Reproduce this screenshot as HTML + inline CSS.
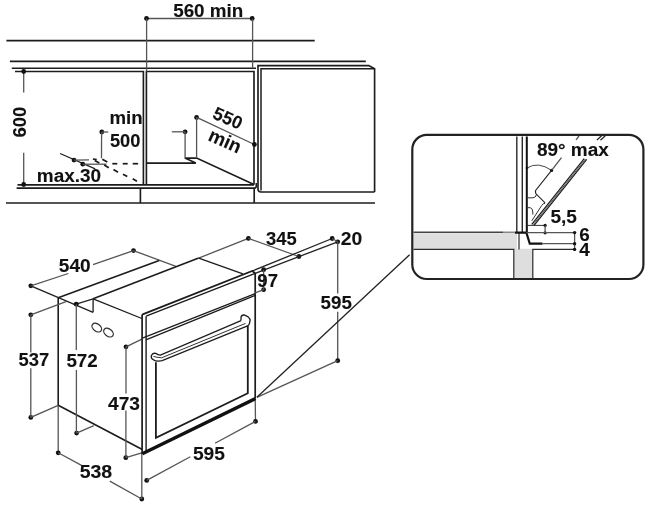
<!DOCTYPE html>
<html><head><meta charset="utf-8"><style>
html,body{margin:0;padding:0;background:#fff;}
svg{display:block;} .wrap{will-change:transform;width:650px;height:507px;}
text{font-family:"Liberation Sans",sans-serif;font-weight:bold;fill:#111;stroke:#111;stroke-width:0.1px;}
</style></head><body>
<div class="wrap"><svg width="650" height="507" viewBox="0 0 650 507">
<rect width="650" height="507" fill="#fff"/>
<line x1="6.4" y1="40.6" x2="314.7" y2="40.6" stroke="#1c1c1c" stroke-width="1.65" />
<line x1="9.9" y1="61.3" x2="365.8" y2="61.3" stroke="#1c1c1c" stroke-width="1.65" />
<line x1="11.8" y1="68.2" x2="256" y2="68.2" stroke="#1c1c1c" stroke-width="1.65" />
<path d="M15,71.5 H143.4 V184.7" stroke="#1c1c1c" stroke-width="1.65" fill="none" />
<path d="M146.4,184.7 V71.5 H254 V184.7" stroke="#1c1c1c" stroke-width="1.65" fill="none" />
<line x1="17.5" y1="184.8" x2="254" y2="184.8" stroke="#1c1c1c" stroke-width="1.65" />
<path d="M16.6,188.1 H254.5 Q256.3,188 256.3,186 V183" stroke="#1c1c1c" stroke-width="1.65" fill="none" />
<line x1="6" y1="203" x2="375" y2="203" stroke="#1c1c1c" stroke-width="1.65" />
<line x1="140.4" y1="188" x2="140.4" y2="203" stroke="#1c1c1c" stroke-width="1.65" />
<line x1="254.2" y1="188" x2="254.2" y2="203" stroke="#1c1c1c" stroke-width="1.65" />
<path d="M374.6,192 H261 Q258,192 258,189 V65.6 H368.8 L374.6,68.8 V192" stroke="#1c1c1c" stroke-width="1.65" fill="none" />
<path d="M374.6,68.8 H261 V190.5" stroke="#1c1c1c" stroke-width="1.5" fill="none" />
<line x1="146.5" y1="18.5" x2="252.2" y2="18.5" stroke="#555" stroke-width="1.3" />
<circle cx="146.5" cy="18.5" r="2.4" fill="#111"/>
<circle cx="252.2" cy="18.5" r="2.4" fill="#111"/>
<line x1="146.6" y1="18.5" x2="146.6" y2="71.5" stroke="#555" stroke-width="1.3" />
<line x1="252.6" y1="18.5" x2="252.6" y2="68.2" stroke="#555" stroke-width="1.3" />
<text x="173.20" y="16.7" textLength="70.10" lengthAdjust="spacingAndGlyphs" font-size="18">560 min</text>
<line x1="23.7" y1="71.5" x2="23.7" y2="92.5" stroke="#555" stroke-width="1.3" />
<line x1="23.7" y1="152.8" x2="23.7" y2="184.5" stroke="#555" stroke-width="1.3" />
<circle cx="23.7" cy="71.5" r="2.4" fill="#111"/>
<circle cx="23.7" cy="184.5" r="2.4" fill="#111"/>
<text transform="translate(26.2,137.6) rotate(-90)" textLength="31" lengthAdjust="spacingAndGlyphs" font-size="19">600</text>
<circle cx="101.8" cy="132" r="2.4" fill="#111"/>
<line x1="101.8" y1="132" x2="108.3" y2="132" stroke="#555" stroke-width="1.3" />
<line x1="101.6" y1="132" x2="101.5" y2="158.3" stroke="#555" stroke-width="1.3" />
<text x="109.40" y="123.9" textLength="33.20" lengthAdjust="spacingAndGlyphs" font-size="18">min</text>
<text x="109.90" y="147.3" textLength="30.50" lengthAdjust="spacingAndGlyphs" font-size="18">500</text>
<line x1="60.1" y1="153.5" x2="95.2" y2="168.8" stroke="#222" stroke-width="1.3" />
<circle cx="74" cy="160.1" r="2.4" fill="#111"/>
<circle cx="82.8" cy="164.2" r="2.4" fill="#111"/>
<line x1="74" y1="160.1" x2="89" y2="159.9" stroke="#555" stroke-width="1.3" />
<line x1="82.8" y1="164.2" x2="106.5" y2="164.2" stroke="#555" stroke-width="1.3" />
<line x1="112.3" y1="163.7" x2="117.3" y2="163.7" stroke="#1a1a1a" stroke-width="1.7" />
<line x1="122.7" y1="163.7" x2="127.7" y2="163.7" stroke="#1a1a1a" stroke-width="1.7" />
<line x1="132.7" y1="163.7" x2="138.1" y2="163.7" stroke="#1a1a1a" stroke-width="1.7" />
<line x1="94.7" y1="160.4" x2="99.3" y2="163" stroke="#1a1a1a" stroke-width="1.7" />
<line x1="104.2" y1="165" x2="108.8" y2="167.7" stroke="#1a1a1a" stroke-width="1.7" />
<line x1="113.5" y1="169.6" x2="118" y2="172.3" stroke="#1a1a1a" stroke-width="1.7" />
<line x1="123" y1="174.2" x2="127.3" y2="176.5" stroke="#1a1a1a" stroke-width="1.7" />
<line x1="132.7" y1="178.8" x2="136.9" y2="181.2" stroke="#1a1a1a" stroke-width="1.7" />
<line x1="92.9" y1="159" x2="96.7" y2="159.7" stroke="#1a1a1a" stroke-width="1.7" />
<line x1="102.3" y1="159.2" x2="107.3" y2="161.9" stroke="#1a1a1a" stroke-width="1.7" />
<text x="36.80" y="182.20000000000002" textLength="64.30" lengthAdjust="spacingAndGlyphs" font-size="18">max.30</text>
<path d="M146.4,163.1 H195.8 L184.9,158.1 H196.6 L253.4,184.2" stroke="#1c1c1c" stroke-width="1.65" fill="none" />
<circle cx="196.6" cy="117.5" r="2.4" fill="#111"/>
<line x1="196.6" y1="117.5" x2="196.6" y2="158.3" stroke="#555" stroke-width="1.3" />
<circle cx="185.1" cy="131.8" r="2.4" fill="#111"/>
<line x1="171.8" y1="131.8" x2="185.1" y2="131.8" stroke="#555" stroke-width="1.3" />
<line x1="185.1" y1="131.8" x2="185.1" y2="158.3" stroke="#555" stroke-width="1.3" />
<line x1="196.7" y1="117.3" x2="254.4" y2="144.5" stroke="#555" stroke-width="1.3" />
<circle cx="254.4" cy="144.5" r="2.4" fill="#111"/>
<text transform="translate(225.3,123.8) rotate(23.9)" text-anchor="middle" font-size="18">550</text>
<text transform="translate(222.4,146.8) rotate(23.9)" text-anchor="middle" font-size="19">min</text>
<circle cx="30.8" cy="285.8" r="2.4" fill="#111"/>
<circle cx="133.5" cy="250.6" r="2.4" fill="#111"/>
<line x1="30.8" y1="285.8" x2="68.3" y2="273.5" stroke="#555" stroke-width="1.3" />
<line x1="93" y1="264.7" x2="133.5" y2="250.6" stroke="#555" stroke-width="1.3" />
<text x="58.80" y="272.4" textLength="31.80" lengthAdjust="spacingAndGlyphs" font-size="18">540</text>
<line x1="133.5" y1="250.6" x2="175.9" y2="266.4" stroke="#555" stroke-width="1.3" />
<line x1="30.8" y1="285.8" x2="93.1" y2="312.3" stroke="#222" stroke-width="1.4" />
<line x1="76.2" y1="304.2" x2="93.1" y2="298.8" stroke="#222" stroke-width="1.3" />
<line x1="58.2" y1="297.7" x2="159.2" y2="260.4" stroke="#1c1c1c" stroke-width="1.6" />
<line x1="93.1" y1="298.8" x2="198.7" y2="258.1" stroke="#1c1c1c" stroke-width="1.6" />
<line x1="198.7" y1="258.1" x2="248.4" y2="238.4" stroke="#555" stroke-width="1.3" />
<line x1="198.7" y1="258.1" x2="242.9" y2="273.9" stroke="#1c1c1c" stroke-width="1.3" />
<line x1="93.1" y1="312.3" x2="93.1" y2="298.8" stroke="#1c1c1c" stroke-width="1.3" />
<line x1="93.1" y1="298.8" x2="141.9" y2="318.5" stroke="#1c1c1c" stroke-width="1.3" />
<line x1="58.2" y1="297.7" x2="58.2" y2="405.3" stroke="#1c1c1c" stroke-width="1.6" />
<line x1="58.2" y1="405.3" x2="58.2" y2="452.8" stroke="#555" stroke-width="1.3" />
<line x1="58.2" y1="405.3" x2="142.3" y2="449.5" stroke="#1c1c1c" stroke-width="1.6" />
<circle cx="30.8" cy="314.8" r="2.4" fill="#111"/>
<circle cx="30.8" cy="417.4" r="2.4" fill="#111"/>
<line x1="30.8" y1="314.8" x2="66" y2="301.6" stroke="#555" stroke-width="1.3" />
<line x1="30.8" y1="314.8" x2="30.8" y2="352.5" stroke="#555" stroke-width="1.3" />
<line x1="30.8" y1="368.3" x2="30.8" y2="417.4" stroke="#555" stroke-width="1.3" />
<line x1="30.8" y1="417.4" x2="58.2" y2="405.3" stroke="#555" stroke-width="1.3" />
<text x="18.60" y="366.2" textLength="30.70" lengthAdjust="spacingAndGlyphs" font-size="18">537</text>
<circle cx="76.2" cy="304.2" r="2.4" fill="#111"/>
<circle cx="76.6" cy="433.1" r="2.4" fill="#111"/>
<line x1="76.3" y1="304.2" x2="76.3" y2="350" stroke="#555" stroke-width="1.3" />
<line x1="76.4" y1="370" x2="76.4" y2="433.1" stroke="#555" stroke-width="1.3" />
<line x1="76.6" y1="433.1" x2="93.8" y2="425.7" stroke="#555" stroke-width="1.3" />
<text x="66.40" y="367.09999999999997" textLength="31.40" lengthAdjust="spacingAndGlyphs" font-size="18">572</text>
<ellipse cx="96.8" cy="327.6" rx="5.4" ry="3.6" transform="rotate(38 96.8 327.6)" fill="none" stroke="#333" stroke-width="1.3"/>
<ellipse cx="108.5" cy="332.6" rx="5.4" ry="3.6" transform="rotate(38 108.5 332.6)" fill="none" stroke="#333" stroke-width="1.3"/>
<circle cx="126" cy="346.8" r="2.4" fill="#111"/>
<circle cx="125.8" cy="457.7" r="2.4" fill="#111"/>
<line x1="126" y1="346.8" x2="141.9" y2="339.2" stroke="#555" stroke-width="1.3" />
<line x1="126" y1="346.8" x2="126" y2="393.5" stroke="#555" stroke-width="1.3" />
<line x1="125.9" y1="410.5" x2="125.9" y2="457.7" stroke="#555" stroke-width="1.3" />
<line x1="125.8" y1="457.7" x2="141.8" y2="452.8" stroke="#555" stroke-width="1.3" />
<text x="108.00" y="409.5" textLength="32.00" lengthAdjust="spacingAndGlyphs" font-size="18">473</text>
<circle cx="58.2" cy="452.8" r="2.4" fill="#111"/>
<circle cx="141.8" cy="499" r="2.4" fill="#111"/>
<line x1="58.2" y1="452.8" x2="81.5" y2="465.4" stroke="#555" stroke-width="1.3" />
<line x1="109.8" y1="481.1" x2="141.8" y2="499" stroke="#555" stroke-width="1.3" />
<line x1="141.8" y1="453" x2="141.8" y2="499" stroke="#555" stroke-width="1.3" />
<text x="79.70" y="478.29999999999995" textLength="32.50" lengthAdjust="spacingAndGlyphs" font-size="18">538</text>
<path d="M142.1,453.8 V315.5 Q142.3,314.6 143.3,314.1 L252.2,271 L255.2,273.3 V398.5" stroke="#1c1c1c" stroke-width="1.7" fill="none" />
<line x1="146.1" y1="452" x2="146.1" y2="316.2" stroke="#1c1c1c" stroke-width="1.4" />
<line x1="146.1" y1="316.2" x2="255.2" y2="273.3" stroke="#1c1c1c" stroke-width="1.4" />
<line x1="142.4" y1="338.2" x2="255.2" y2="293.6" stroke="#1c1c1c" stroke-width="1.3" />
<line x1="145.9" y1="339.8" x2="255.2" y2="295.4" stroke="#1c1c1c" stroke-width="1.3" />
<line x1="255.2" y1="398.5" x2="255.5" y2="421.4" stroke="#555" stroke-width="1.3" />
<path d="M155.9,362.2 V437.8 L247.8,393.3 V325.6" stroke="#1c1c1c" stroke-width="1.8" fill="none" />
<line x1="142.3" y1="453.8" x2="255.5" y2="398.5" stroke="#111" stroke-width="3.4" />
<path d="M241,320.6 L160.4,355.1 Q158.2,355 155.7,353.4 Q152.6,352.6 151.4,355.4 Q150.6,358.2 153.4,359.8 Q155.5,361.4 158.5,361.2 L162.2,360.7 L247.6,325.8" stroke="#1c1c1c" stroke-width="1.3" fill="none" />
<path d="M241,320.6 L241,317 Q241.6,314.8 244.2,315 L248.2,316.9 Q250.3,318.5 250,321 L249.4,323.6 Q249,325.2 247.6,325.8" stroke="#1c1c1c" stroke-width="1.3" fill="none" />
<path d="M153.4,356.4 Q156.5,357.4 161.6,357.8 L245.5,323.4" stroke="#333" stroke-width="1.0" fill="none" />
<circle cx="248.4" cy="238.4" r="2.4" fill="#111"/>
<circle cx="298.9" cy="256.5" r="2.4" fill="#111"/>
<line x1="248.4" y1="238.4" x2="298.9" y2="256.5" stroke="#555" stroke-width="1.3" />
<text x="266.00" y="244.9" textLength="30.70" lengthAdjust="spacingAndGlyphs" font-size="18">345</text>
<line x1="252.2" y1="271" x2="332.2" y2="238.5" stroke="#222" stroke-width="1.3" />
<line x1="255.2" y1="273.3" x2="337.7" y2="241.8" stroke="#222" stroke-width="1.3" />
<circle cx="332.2" cy="238.5" r="2.4" fill="#111"/>
<circle cx="337.7" cy="241.8" r="2.4" fill="#111"/>
<line x1="332.2" y1="238.5" x2="337.7" y2="241.8" stroke="#555" stroke-width="1.3" />
<text x="340.80" y="244.9" textLength="21.50" lengthAdjust="spacingAndGlyphs" font-size="18">20</text>
<circle cx="263.6" cy="269.7" r="2.4" fill="#111"/>
<circle cx="263.6" cy="289.7" r="2.4" fill="#111"/>
<line x1="263.6" y1="269.7" x2="263.6" y2="289.7" stroke="#555" stroke-width="1.3" />
<line x1="255.2" y1="292.8" x2="263.6" y2="289.7" stroke="#555" stroke-width="1.3" />
<text x="257.30" y="286.79999999999995" textLength="20.70" lengthAdjust="spacingAndGlyphs" font-size="18">97</text>
<line x1="337.7" y1="241.8" x2="337.7" y2="293.4" stroke="#555" stroke-width="1.3" />
<line x1="337.7" y1="311.8" x2="337.7" y2="360.7" stroke="#555" stroke-width="1.3" />
<circle cx="337.7" cy="360.7" r="2.4" fill="#111"/>
<line x1="337.7" y1="360.7" x2="256.9" y2="397.3" stroke="#555" stroke-width="1.3" />
<text x="320.60" y="308.79999999999995" textLength="31.30" lengthAdjust="spacingAndGlyphs" font-size="18">595</text>
<line x1="256.9" y1="397.3" x2="409.6" y2="254.8" stroke="#222" stroke-width="1.3" />
<circle cx="146.7" cy="480.4" r="2.4" fill="#111"/>
<circle cx="255.5" cy="421.4" r="2.4" fill="#111"/>
<line x1="146.7" y1="480.4" x2="190.3" y2="456.8" stroke="#555" stroke-width="1.3" />
<line x1="215" y1="443.3" x2="255.5" y2="421.4" stroke="#555" stroke-width="1.3" />
<text x="192.90" y="460.09999999999997" textLength="32.00" lengthAdjust="spacingAndGlyphs" font-size="18">595</text>
<path d="M413.5,233.3 H517 V248.8 H532.5 V278 H514 V249.6 H413.5 Z" stroke="none" stroke-width="0" fill="#dedede" />
<rect x="412.3" y="134.9" width="231.1" height="144.1" rx="14.5" fill="none" stroke="#222" stroke-width="2.2"/>
<path d="M413.5,249.4 H513.8 V278 M532.8,278 V249.4 H574.6 M519,232.5 V249.4" stroke="#2a2a2a" stroke-width="1.2" fill="none" />
<line x1="516.8" y1="136.5" x2="516.8" y2="232.3" stroke="#2a2a2a" stroke-width="1.4" />
<line x1="522.3" y1="136.5" x2="522.3" y2="232.3" stroke="#2a2a2a" stroke-width="1.4" />
<line x1="526.8" y1="136.5" x2="526.8" y2="232.3" stroke="#111" stroke-width="2.0" />
<line x1="413.5" y1="232.3" x2="503" y2="232.3" stroke="#444" stroke-width="1.6" />
<line x1="503" y1="232.3" x2="515" y2="232.3" stroke="#888" stroke-width="1.6" />
<path d="M515,232.6 H526.4 L529.8,243.7 H542.5" stroke="#111" stroke-width="2.2" fill="none" />
<path d="M527.4,232.5 V225.4 H545.1" stroke="#333" stroke-width="1.0" fill="none" />
<circle cx="545.1" cy="225.4" r="1.6" fill="#111"/>
<circle cx="545.1" cy="232.8" r="1.6" fill="#111"/>
<line x1="545.1" y1="225.4" x2="545.1" y2="232.8" stroke="#555" stroke-width="1.3" />
<line x1="526.4" y1="232.6" x2="574.6" y2="232.6" stroke="#555" stroke-width="1.3" />
<line x1="542.5" y1="243.7" x2="574.6" y2="243.7" stroke="#555" stroke-width="1.3" />
<line x1="574.6" y1="232.6" x2="574.6" y2="249.4" stroke="#555" stroke-width="1.3" />
<circle cx="574.6" cy="232.6" r="1.7" fill="#111"/>
<circle cx="574.6" cy="243.7" r="1.7" fill="#111"/>
<circle cx="574.6" cy="249.4" r="1.7" fill="#111"/>
<text x="536.90" y="156.0" textLength="71.90" lengthAdjust="spacingAndGlyphs" font-size="18">89° max</text>
<text x="550.40" y="223.3" textLength="26.50" lengthAdjust="spacingAndGlyphs" font-size="18">5,5</text>
<text x="579.30" y="240.8" textLength="10.50" lengthAdjust="spacingAndGlyphs" font-size="18">6</text>
<text x="579.30" y="256.0" textLength="10.50" lengthAdjust="spacingAndGlyphs" font-size="18">4</text>
<line x1="531.8" y1="224.4" x2="584.2" y2="158.6" stroke="#1a1a1a" stroke-width="1.2" />
<line x1="533.0999999999999" y1="224.79" x2="585.5" y2="158.98999999999998" stroke="#444" stroke-width="0.9" />
<line x1="534.3" y1="225.15" x2="586.7" y2="159.35" stroke="#1a1a1a" stroke-width="1.2" />
<line x1="597" y1="140" x2="602" y2="135.2" stroke="#222" stroke-width="1.2" />
<line x1="600.5" y1="140.3" x2="605.5" y2="135.5" stroke="#222" stroke-width="1.2" />
<path d="M527,168 Q538,161 551.6,170.4" stroke="#444" stroke-width="1.0" fill="none" />
<circle cx="527" cy="168" r="1.3" fill="#111"/>
<circle cx="551.6" cy="170.4" r="1.6" fill="#111"/>
<line x1="551.6" y1="170.4" x2="561.5" y2="157.6" stroke="#555" stroke-width="1.3" />
<line x1="576" y1="139.8" x2="579" y2="136" stroke="#555" stroke-width="1.3" />
<path d="M551.6,170.4 L535.6,190.5 Q534.8,193.5 537.3,195.2 L545.1,202.8" stroke="#222" stroke-width="1.1" fill="none" />
<path d="M526.9,197.8 H533 Q535.8,197.5 536.3,194.9" stroke="#333" stroke-width="1.0" fill="none" />
<path d="M526.9,207.7 H530.3 Q532.8,208.5 532.8,212 V214.6" stroke="#333" stroke-width="1.0" fill="none" />
<path d="M531.8,220.8 L541.6,205.6 Q543.2,203 545.1,203.4" stroke="#333" stroke-width="1.0" fill="none" />
</svg></div></body></html>
